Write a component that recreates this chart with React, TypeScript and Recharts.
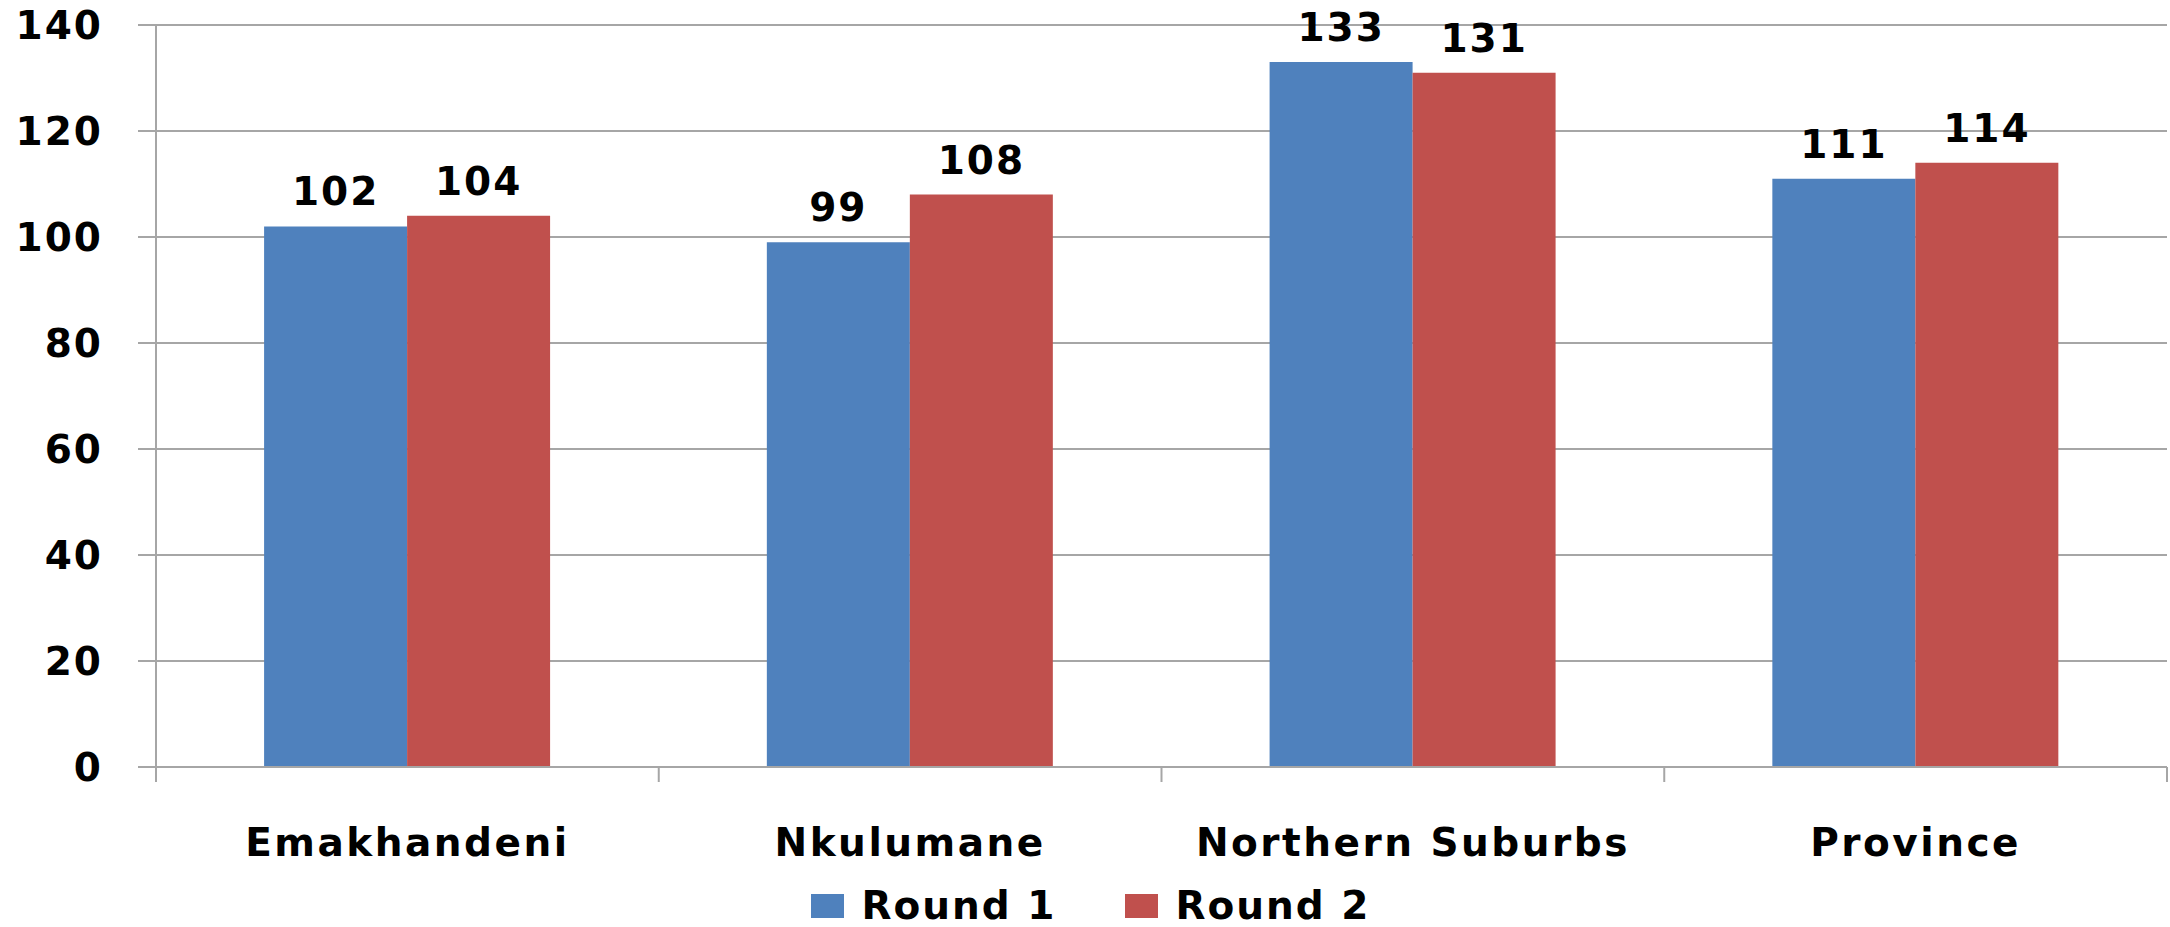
import { BarChart, Bar, XAxis, YAxis, CartesianGrid, Legend, LabelList } from 'recharts';

const categories = ['Emakhandeni', 'Nkulumane', 'Northern Suburbs', 'Province'];
const round1 = [102, 99, 133, 111];
const round2 = [104, 108, 131, 114];
const yTicks = [0, 20, 40, 60, 80, 100, 120, 140];

const data = categories.map((name, i) => ({ name, round1: round1[i], round2: round2[i] }));

const BLUE = '#4F81BD';
const RED = '#C0504D';
const GRID = '#A6A6A6';
const FONT = '"DejaVu Sans", sans-serif';

const W = 2170;
const H = 927;
const Y_AXIS_W = 156;
const RIGHT = 3;
const X_MARGIN = 61;

const CategoryTick = (props: any) => {
  const { x, y, payload, index, visibleTicksCount } = props;
  const count = visibleTicksCount || categories.length;
  const band = (W - Y_AXIS_W - RIGHT) / count;
  const axisY = y - X_MARGIN;
  return (
    <g>
      <line x1={x - band / 2} x2={x - band / 2} y1={axisY} y2={axisY + 15} stroke={GRID} strokeWidth={2} />
      {index === count - 1 && (
        <line x1={x + band / 2} x2={x + band / 2} y1={axisY} y2={axisY + 15} stroke={GRID} strokeWidth={2} />
      )}
      <text x={x} y={y} dy="0.71em" textAnchor="middle" fill="#000" fontSize={39} fontWeight="bold" fontFamily={FONT} letterSpacing={2.5}>
        {payload.value}
      </text>
    </g>
  );
};

const renderLegend = () => (
  <div
    style={{
      display: 'flex',
      justifyContent: 'center',
      alignItems: 'center',
      paddingTop: 6,
      paddingLeft: 14,
      fontFamily: FONT,
      fontWeight: 'bold',
      fontSize: 39,
      letterSpacing: 2,
      color: '#000',
    }}
  >
    <span style={{ display: 'inline-block', width: 33, height: 24, background: BLUE, marginRight: 18 }} />
    <span style={{ marginRight: 68 }}>Round 1</span>
    <span style={{ display: 'inline-block', width: 33, height: 24, background: RED, marginRight: 18 }} />
    <span>Round 2</span>
  </div>
);

const numStyle = { fill: '#000', fontSize: 39, fontWeight: 'bold', fontFamily: FONT, letterSpacing: 2 };

export default function App() {
  return (
    <div style={{ position: 'absolute', left: 0, top: 0, background: '#fff' }}>
      <BarChart
        width={W}
        height={H}
        data={data}
        margin={{ top: 25, right: RIGHT, left: 0, bottom: 0 }}
        barCategoryGap="21.5%"
        barGap={0}
      >
        <CartesianGrid vertical={false} stroke={GRID} strokeWidth={2} />
        <XAxis
          dataKey="name"
          height={110}
          interval={0}
          tickLine={false}
          tickSize={0}
          tickMargin={X_MARGIN}
          axisLine={{ stroke: GRID, strokeWidth: 2 }}
          tick={<CategoryTick />}
        />
        <YAxis
          width={Y_AXIS_W}
          domain={[0, 140]}
          ticks={yTicks}
          interval={0}
          tickSize={18}
          tickMargin={35}
          tickLine={{ stroke: GRID, strokeWidth: 2 }}
          axisLine={{ stroke: GRID, strokeWidth: 2 }}
          tick={numStyle}
        />
        <Legend verticalAlign="bottom" height={50} content={renderLegend} />
        <Bar dataKey="round1" name="Round 1" fill={BLUE} isAnimationActive={false}>
          <LabelList dataKey="round1" position="top" offset={21} {...numStyle} />
        </Bar>
        <Bar dataKey="round2" name="Round 2" fill={RED} isAnimationActive={false}>
          <LabelList dataKey="round2" position="top" offset={21} {...numStyle} />
        </Bar>
      </BarChart>
    </div>
  );
}
